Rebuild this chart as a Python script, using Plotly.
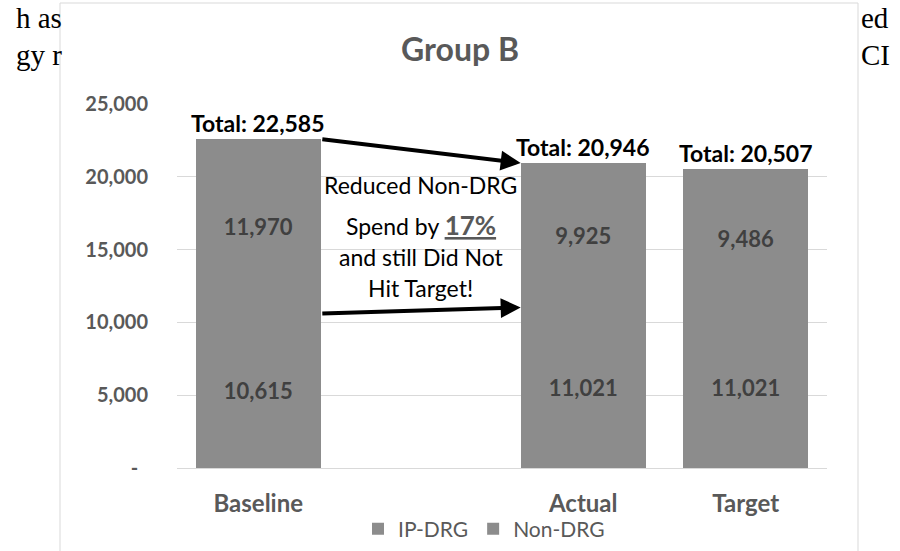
import plotly.graph_objects as go

# ---- data ----
categories = ["Baseline", " ", "Actual", "Target"]
ip_drg = [10615, None, 11021, 11021]
non_drg = [11970, None, 9925, 9486]
totals = [22585, None, 20946, 20507]
y_ticks = [0, 5000, 10000, 15000, 20000, 25000]
y_tick_labels = ["-\u00a0\u00a0", "5,000", "10,000", "15,000", "20,000", "25,000"]
note_lines = ["Reduced Non-DRG",
              "Spend by <span style=\"color:#595959;font-size:26px\"><b><u>17%</u></b></span>",
              "and still Did Not",
              "Hit Target!"]

# ---- layout geometry (pixels) ----
W, H = 900, 551
L, R, T, B = 177, 827, 104, 468
BARGAP = 0.23
FONT = "Lato"
GREY_BAR = "#8c8c8c"
GREY_TXT = "#595959"


def px_x(p):
    return (p - L) / (R - L)


def px_y(p):
    return (B - p) / (B - T)


fig = go.Figure()
for name, vals in [("IP-DRG", ip_drg), ("Non-DRG", non_drg)]:
    fig.add_trace(go.Bar(
        name=name, x=categories, y=vals,
        marker=dict(color=GREY_BAR, line=dict(width=0)),
        texttemplate="%{y:,}", textposition="inside", insidetextanchor="middle",
        textangle=0, constraintext="none",
        textfont=dict(family=FONT, size=22, color="#404040", weight="bold"),
        hoverinfo="skip"))

annotations = []
# totals
for i, t in enumerate(totals):
    if t is None:
        continue
    annotations.append(dict(x=i, y=t, xref="x", yref="y", text=f"Total: {t:,}",
                            showarrow=False, yanchor="bottom", yshift=0,
                            font=dict(family=FONT, size=23, color="#000000", weight="bold")))

# arrows
hw = (1 - BARGAP) / 2
for y_head, y_tail in [(totals[2], totals[0]), (ip_drg[2], ip_drg[0])]:
    annotations.append(dict(x=2 - hw, y=y_head, ax=0 + hw, ay=y_tail, xref="x", yref="y",
                            axref="x", ayref="y", showarrow=True, arrowhead=2, arrowsize=1.0,
                            arrowwidth=4, arrowcolor="#000000", text=""))

# note text lines
for line, ypx in zip(note_lines, [185, 225, 257, 288]):
    annotations.append(dict(x=1, y=px_y(ypx), xref="x", yref="paper", text=line,
                            showarrow=False, yanchor="middle",
                            font=dict(family=FONT, size=23, color="#000000")))

# surrounding document text fragments
doc_font = dict(family="Liberation Serif", size=29, color="#000000")
for txt, xp, yp in [("h as", 14, 18), ("gy r", 14, 55), ("ed", 859, 18), ("CI", 859, 55)]:
    annotations.append(dict(x=px_x(xp), y=px_y(yp), xref="paper", yref="paper", text=txt,
                            showarrow=False, xanchor="left", yanchor="middle", font=doc_font))

fig.update_layout(
    width=W, height=H,
    margin=dict(l=L, r=W - R, t=T, b=H - B, autoexpand=False),
    paper_bgcolor="white", plot_bgcolor="white",
    barmode="stack", bargap=BARGAP,
    showlegend=True,
    legend=dict(orientation="h", x=px_x(484), xanchor="center", y=px_y(529), yanchor="middle",
                font=dict(family=FONT, size=21, color=GREY_TXT), traceorder="normal",
                bgcolor="rgba(0,0,0,0)"),
    title=dict(text="Group B", x=460 / W, xref="container", xanchor="center",
               y=1 - 50 / H, yref="container", yanchor="middle",
               font=dict(family=FONT, size=32, color=GREY_TXT, weight="bold")),
    xaxis=dict(type="category", categoryorder="array", categoryarray=categories,
               range=[-0.5, len(categories) - 0.5], showgrid=False, showline=True,
               linecolor="#d9d9d9", linewidth=1, ticks="outside", ticklen=14,
               tickcolor="rgba(0,0,0,0)",
               tickfont=dict(family=FONT, size=24, color=GREY_TXT, weight="bold")),
    yaxis=dict(range=[0, 25000], tickvals=y_ticks, ticktext=y_tick_labels,
               showgrid=True, gridcolor="#d9d9d9", gridwidth=1, zeroline=False,
               showline=False, ticks="outside", ticklen=24, tickcolor="rgba(0,0,0,0)",
               tickfont=dict(family=FONT, size=20, color=GREY_TXT, weight="bold")),
    annotations=annotations,
    shapes=[dict(type="rect", xref="paper", yref="paper", x0=px_x(60), x1=px_x(858),
                 y0=px_y(H + 5), y1=px_y(3), fillcolor="white",
                 line=dict(color="#d9d9d9", width=1), layer="below")],
)

fig.write_html("out.html", config={"displayModeBar": False},
               post_script="document.body.style.margin='0';")
